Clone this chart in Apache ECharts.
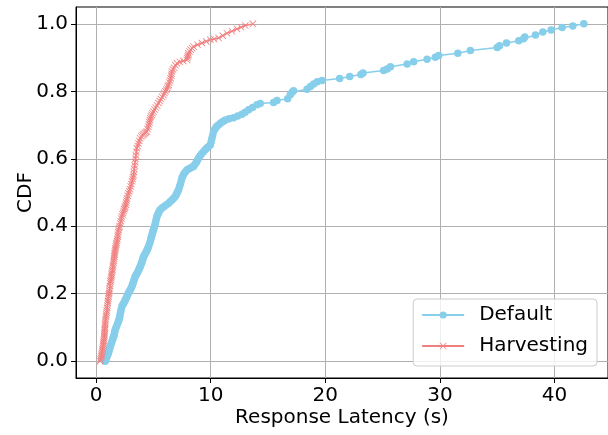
<!DOCTYPE html>
<html>
<head>
<meta charset="utf-8">
<script src="https://cdn.jsdelivr.net/npm/echarts@6/dist/echarts.min.js"></script>
<style>
  html, body { margin: 0; padding: 0; background: #fff; }
  #chart { width: 608px; height: 435px; }
</style>
</head>
<body>
<div id="chart"></div>
<script>
// Empirical CDF of response latency, [latency (s), cumulative fraction]
const defaultCdf = [
  [0.79,0.000],[0.85,0.005],[0.90,0.010],[0.96,0.015],[1.02,0.020],[1.07,0.025],[1.12,0.030],[1.17,0.037],
  [1.22,0.043],[1.29,0.049],[1.35,0.055],[1.41,0.062],[1.47,0.068],[1.53,0.074],[1.58,0.080],[1.62,0.087],
  [1.66,0.093],[1.73,0.099],[1.80,0.105],[1.88,0.112],[1.95,0.118],[2.00,0.124],[2.05,0.130],[2.09,0.138],
  [2.13,0.145],[2.18,0.153],[2.24,0.162],[2.32,0.167],[2.40,0.172],[2.48,0.177],[2.55,0.182],[2.62,0.187],
  [2.68,0.192],[2.75,0.197],[2.82,0.202],[2.90,0.207],[2.98,0.212],[3.05,0.217],[3.12,0.221],[3.17,0.227],
  [3.22,0.232],[3.27,0.237],[3.32,0.242],[3.37,0.247],[3.41,0.251],[3.50,0.256],[3.58,0.261],[3.65,0.266],
  [3.72,0.271],[3.78,0.276],[3.84,0.280],[3.90,0.285],[3.95,0.290],[4.00,0.295],[4.05,0.300],[4.09,0.305],
  [4.13,0.310],[4.22,0.315],[4.30,0.320],[4.38,0.325],[4.45,0.330],[4.51,0.335],[4.57,0.340],[4.65,0.348],
  [4.72,0.355],[4.77,0.362],[4.82,0.368],[4.87,0.374],[4.92,0.380],[4.96,0.385],[5.00,0.389],[5.05,0.395],
  [5.10,0.400],[5.15,0.407],[5.20,0.414],[5.25,0.422],[5.30,0.429],[5.38,0.435],[5.45,0.440],[5.52,0.445],
  [5.59,0.449],[5.75,0.454],[5.90,0.458],[6.10,0.463],[6.32,0.468],[6.47,0.473],[6.62,0.478],[6.76,0.483],
  [6.90,0.488],[6.98,0.493],[7.05,0.498],[7.12,0.503],[7.19,0.508],[7.27,0.517],[7.35,0.525],[7.42,0.534],
  [7.48,0.542],[7.56,0.549],[7.65,0.555],[7.78,0.561],[7.92,0.567],[8.06,0.570],[8.20,0.572],[8.35,0.575],
  [8.50,0.577],[8.62,0.584],[8.75,0.590],[8.85,0.596],[8.94,0.602],[9.07,0.609],[9.20,0.615],[9.36,0.621],
  [9.52,0.627],[9.66,0.632],[9.80,0.636],[9.96,0.641],[10.03,0.650],[10.10,0.660],[10.17,0.670],[10.24,0.681],
  [10.34,0.687],[10.45,0.693],[10.56,0.697],[10.68,0.700],[10.84,0.705],[11.00,0.709],[11.14,0.712],[11.27,0.715],
  [11.60,0.719],[11.99,0.722],[12.35,0.727],[12.72,0.732],[13.00,0.738],[13.30,0.745],[13.65,0.752],[14.03,0.760],
  [14.32,0.764],[15.48,0.767],[15.78,0.773],[16.71,0.778],[16.94,0.790],[17.10,0.797],[17.23,0.802],[18.40,0.806],
  [18.70,0.814],[18.98,0.822],[19.30,0.828],[19.71,0.832],[21.25,0.838],[22.13,0.844],[23.10,0.850],[23.29,0.854],
  [25.09,0.862],[25.40,0.866],[25.68,0.873],[27.14,0.881],[27.71,0.888],[28.88,0.895],[29.60,0.901],[29.90,0.906],
  [31.56,0.913],[32.66,0.921],[35.00,0.930],[35.20,0.935],[35.81,0.943],[36.88,0.950],[37.30,0.956],[37.41,0.961],
  [38.34,0.967],[38.98,0.976],[39.71,0.982],[40.67,0.989],[41.60,0.994],[42.56,1.000]
];

const harvestingCdf = [
  [0.35,0.000],[0.39,0.005],[0.42,0.010],[0.45,0.015],[0.48,0.020],[0.50,0.025],[0.53,0.030],[0.56,0.035],
  [0.58,0.040],[0.60,0.045],[0.62,0.050],[0.64,0.055],[0.66,0.060],[0.68,0.065],[0.70,0.070],[0.71,0.075],
  [0.72,0.080],[0.73,0.085],[0.74,0.090],[0.76,0.095],[0.77,0.100],[0.78,0.107],[0.79,0.113],[0.81,0.119],
  [0.83,0.125],[0.86,0.132],[0.88,0.138],[0.91,0.144],[0.93,0.150],[0.96,0.158],[0.98,0.165],[1.01,0.172],
  [1.03,0.178],[1.06,0.185],[1.08,0.192],[1.11,0.198],[1.13,0.203],[1.16,0.209],[1.18,0.215],[1.20,0.223],
  [1.22,0.231],[1.25,0.236],[1.28,0.240],[1.31,0.245],[1.33,0.250],[1.35,0.256],[1.37,0.261],[1.40,0.267],
  [1.42,0.272],[1.45,0.279],[1.48,0.285],[1.51,0.292],[1.53,0.298],[1.56,0.304],[1.58,0.310],[1.60,0.315],
  [1.62,0.320],[1.64,0.325],[1.66,0.330],[1.69,0.335],[1.72,0.340],[1.75,0.345],[1.78,0.350],[1.82,0.356],
  [1.85,0.362],[1.88,0.369],[1.90,0.375],[1.93,0.382],[1.95,0.389],[2.00,0.395],[2.05,0.400],[2.10,0.408],
  [2.15,0.415],[2.20,0.422],[2.24,0.429],[2.30,0.435],[2.35,0.440],[2.40,0.445],[2.45,0.450],[2.49,0.454],
  [2.53,0.458],[2.58,0.464],[2.62,0.470],[2.66,0.476],[2.70,0.482],[2.76,0.490],[2.82,0.498],[2.88,0.504],
  [2.95,0.510],[3.01,0.518],[3.08,0.525],[3.13,0.533],[3.18,0.540],[3.22,0.546],[3.26,0.552],[3.29,0.561],
  [3.32,0.570],[3.36,0.580],[3.40,0.590],[3.43,0.600],[3.47,0.610],[3.51,0.620],[3.55,0.631],[3.62,0.638],
  [3.70,0.645],[3.77,0.653],[3.84,0.661],[3.94,0.666],[4.05,0.670],[4.15,0.673],[4.25,0.676],[4.34,0.679],
  [4.43,0.681],[4.49,0.688],[4.55,0.695],[4.60,0.702],[4.65,0.708],[4.69,0.714],[4.72,0.720],[4.78,0.725],
  [4.85,0.730],[4.92,0.735],[5.00,0.740],[5.10,0.746],[5.20,0.752],[5.32,0.758],[5.44,0.765],[5.55,0.771],
  [5.65,0.777],[5.76,0.783],[5.88,0.789],[5.96,0.795],[6.05,0.800],[6.12,0.805],[6.20,0.810],[6.26,0.815],
  [6.32,0.819],[6.38,0.826],[6.45,0.832],[6.50,0.839],[6.55,0.846],[6.58,0.852],[6.61,0.859],[6.70,0.865],
  [6.80,0.870],[6.92,0.877],[7.05,0.883],[7.30,0.887],[7.60,0.890],[7.92,0.893],[7.96,0.898],[8.00,0.903],
  [8.03,0.908],[8.06,0.913],[8.15,0.918],[8.25,0.923],[8.38,0.928],[8.50,0.933],[8.85,0.938],[9.23,0.943],
  [9.60,0.948],[9.96,0.953],[10.30,0.955],[10.68,0.958],[11.05,0.965],[11.41,0.972],[11.85,0.978],[12.29,0.985],
  [12.65,0.990],[13.01,0.995],[13.68,1.000]
];

const seriesNames = ['Default', 'Harvesting'];
const xTicks = [0, 10, 20, 30, 40];
const yTicks = [0.0, 0.2, 0.4, 0.6, 0.8, 1.0];

const FONT = 'DejaVu Sans';
const X_MIN = -1.76, X_MAX = 44.67;
const Y_MIN = -0.05, Y_MAX = 1.05;

// thin filled "x" marker
const CROSS = 'path://M0,0.8L0.8,0L5,4.2L9.2,0L10,0.8L5.8,5L10,9.2L9.2,10L5,5.8L0.8,10L0,9.2L4.2,5Z';

const chart = echarts.init(document.getElementById('chart'), null, { renderer: 'canvas' });

const axisCommon = {
  axisLine: { show: true, onZero: false, lineStyle: { color: '#000', width: 1 } },
  axisTick: { show: true, inside: false, length: 5, lineStyle: { color: '#000', width: 1 } },
  splitLine: { show: true, lineStyle: { color: '#b0b0b0', width: 1 } },
  nameMoveOverlap: false,
  nameTextStyle: { fontFamily: FONT, fontSize: 20, color: '#000' }
};

chart.setOption({
  animation: false,
  backgroundColor: '#fff',
  grid: {
    left: 76, right: 0, top: 7, bottom: 57,
    show: true, borderColor: '#000', borderWidth: 1, backgroundColor: 'transparent'
  },
  xAxis: Object.assign({}, axisCommon, {
    type: 'value',
    min: X_MIN, max: X_MAX,
    name: 'Response Latency (s)',
    nameLocation: 'middle',
    nameGap: 30,
    axisTick: Object.assign({}, axisCommon.axisTick, { customValues: xTicks }),
    axisLabel: {
      customValues: xTicks,
      margin: 8,
      fontFamily: FONT, fontSize: 20, color: '#000',
      formatter: v => String(v)
    }
  }),
  yAxis: Object.assign({}, axisCommon, {
    type: 'value',
    min: Y_MIN, max: Y_MAX,
    name: 'CDF',
    nameLocation: 'middle',
    nameGap: 40,
    axisTick: Object.assign({}, axisCommon.axisTick, { customValues: yTicks }),
    axisLabel: {
      customValues: yTicks,
      margin: 8,
      fontFamily: FONT, fontSize: 20, color: '#000',
      formatter: v => v.toFixed(1)
    }
  }),
  legend: {
    orient: 'vertical',
    right: 11, bottom: 69,
    padding: [6, 9, 10, 8],
    itemWidth: 42, itemHeight: 9, itemGap: 11,
    backgroundColor: 'rgba(255,255,255,0.8)',
    borderColor: '#cccccc', borderWidth: 1, borderRadius: 4,
    textStyle: { fontFamily: FONT, fontSize: 20, color: '#000', padding: [0, 0, 0, 10] },
    data: seriesNames
  },
  series: [
    {
      name: seriesNames[0],
      type: 'line',
      data: defaultCdf,
      symbol: 'circle',
      symbolSize: 7.5,
      showAllSymbol: true,
      lineStyle: { color: '#87ceeb', width: 1.5 },
      itemStyle: { color: '#87ceeb' },
      z: 2
    },
    {
      name: seriesNames[1],
      type: 'line',
      data: harvestingCdf,
      symbol: CROSS,
      symbolSize: 7,
      showAllSymbol: true,
      lineStyle: { color: '#f08080', width: 1.5 },
      itemStyle: { color: '#f08080' },
      z: 3
    }
  ]
});
</script>
</body>
</html>
